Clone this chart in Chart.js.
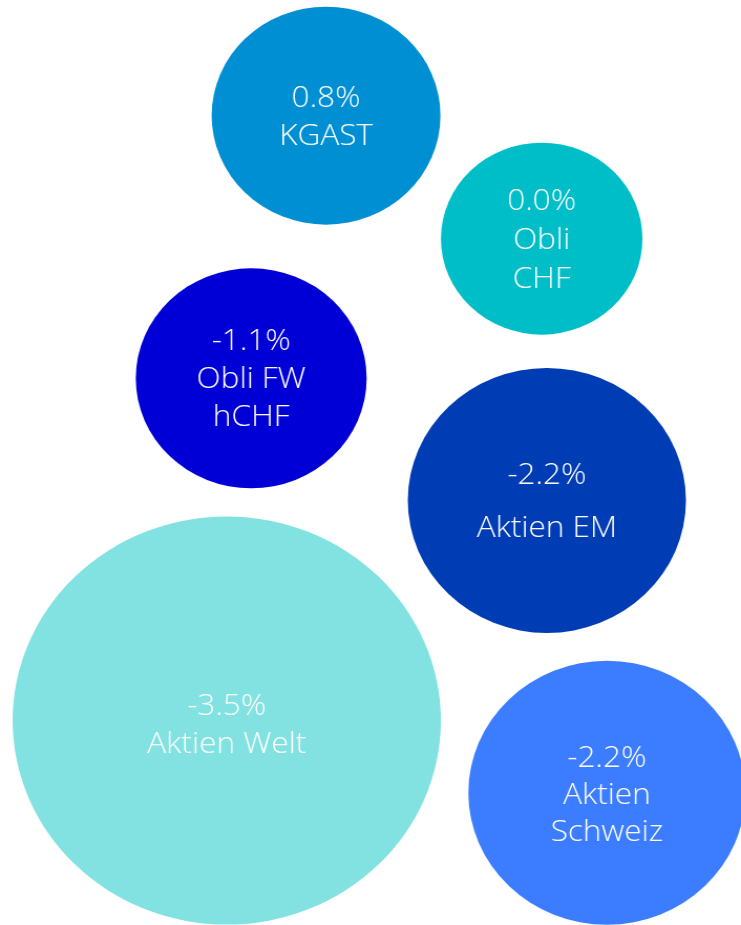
<!DOCTYPE html>
<html>
<head>
<meta charset="utf-8">
<script src="https://cdn.jsdelivr.net/npm/chart.js@4.4.1/dist/chart.umd.min.js"></script>
<style>
    html, body { margin: 0; padding: 0; background: #ffffff; overflow: hidden; }
    /* the source picture is slightly stretched sideways, so the bubbles look like ellipses */
    #bubbles { display: block; width: 741px !important; height: 925px !important; }
</style>
</head>
<body>
<canvas id="bubbles" width="706" height="925" style="width:741px;height:925px"></canvas>
<script>
const categories = ["KGAST", "Obli CHF", "Obli FW hCHF", "Aktien EM", "Aktien Welt", "Aktien Schweiz"];
const labelLines = [["KGAST"], ["Obli", "CHF"], ["Obli FW", "hCHF"], ["Aktien EM"], ["Aktien Welt"], ["Aktien", "Schweiz"]];
const returns = [0.8, 0.0, -1.1, -2.2, -3.5, -2.2];
const bubbleX = [44.0, 73.1, 33.9, 73.8, 30.6, 81.9];
const bubbleY = [12.5, 25.8, 40.9, 54.1, 77.9, 85.7];
const bubbleR = [109, 96, 110, 132.5, 204, 132];

const colors = ["#008fd3", "#00bec8", "#0000d6", "#003cb4", "#82e1e1", "#3c7dff"];
const lineGap = [38, 39, 38, 53, 38, 37];
const textShift = [2, 2, 1, 2, 5, 3];

const bubbleLabels = {
    id: "bubbleLabels",
    afterDatasetsDraw(chart) {
        const ctx = chart.ctx;
        const meta = chart.getDatasetMeta(0);
        ctx.save();
        ctx.fillStyle = "#ffffff";
        ctx.textAlign = "center";
        ctx.textBaseline = "middle";
        ctx.font = "300 30px 'Open Sans', 'Noto Sans', sans-serif";
        meta.data.forEach((point, i) => {
            const lines = [returns[i].toFixed(1) + "%", ...labelLines[i]];
            const gap = lineGap[i];
            lines.forEach((text, j) => {
                const dy = (j - (lines.length - 1) / 2) * gap;
                ctx.fillText(text, point.x, point.y + dy + textShift[i]);
            });
        });
        ctx.restore();
    }
};

const ctx = document.getElementById("bubbles").getContext("2d");
new Chart(ctx, {
    type: "bubble",
    data: {
        labels: categories,
        datasets: [{
            label: "Rendite",
            data: categories.map((c, i) => ({ x: bubbleX[i], y: bubbleY[i], r: bubbleR[i] })),
            backgroundColor: colors,
            borderWidth: 0,
            hoverRadius: 0,
            clip: 0
        }]
    },
    options: {
        responsive: false,
        animation: false,
        events: [],
        layout: { padding: 0, autoPadding: false },
        scales: {
            x: { type: "linear", min: 0, max: 100, display: false },
            y: { type: "linear", min: 0, max: 100, reverse: true, display: false }
        },
        plugins: {
            legend: { display: false },
            tooltip: { enabled: false }
        }
    },
    plugins: [bubbleLabels]
});
</script>
</body>
</html>
